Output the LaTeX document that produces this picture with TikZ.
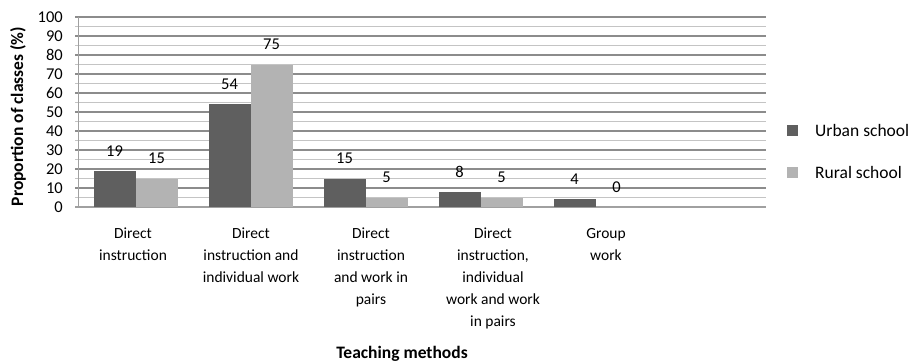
\documentclass[tikz,border=0pt]{standalone}
\usepackage{fontspec}
\setmainfont{Carlito}
\usepackage{tikz}

\definecolor{urbangray}{HTML}{5F5F5F}
\definecolor{ruralgray}{HTML}{B3B3B3}
\definecolor{majorgrid}{HTML}{8C8C8C}
\definecolor{minorgrid}{HTML}{C4C4C4}
\definecolor{axisgray}{HTML}{A0A0A0}

\tikzset{
  ticklabel/.style={black, anchor=east, inner sep=0pt, font=\fontsize{16.5}{20}\selectfont},
  vallabel/.style={black, inner sep=0pt, font=\fontsize{16.5}{20}\selectfont},
  catlabel/.style={black, anchor=north, align=center, inner sep=0pt, font=\fontsize{15.5}{22}\selectfont},
  legendlabel/.style={black, anchor=west, inner sep=0pt, font=\fontsize{17.5}{20}\selectfont},
  titlelabel/.style={black, inner sep=0pt, font=\fontsize{17.5}{20}\selectfont\bfseries}
}

\begin{document}
\begin{tikzpicture}[x=1pt,y=-1pt]
        \useasboundingbox (0,0) rectangle (913,362);

        % gridlines
        \foreach \v in {5,15,...,95}
          \draw[minorgrid, line width=1.1pt] (75,{207-1.9*\v}) -- (766,{207-1.9*\v});
        \foreach \v in {10,20,...,100}
          \draw[majorgrid, line width=1.1pt] (75,{207-1.9*\v}) -- (766,{207-1.9*\v});

        % axes
        \draw[axisgray, line width=1pt] (78,17) -- (78,207);
        \draw[axisgray, line width=1.2pt] (75,207) -- (766,207);

        % tick labels
        \foreach \v in {0,10,...,100}
          \node[ticklabel] (t\v) at (63,{207-1.9*\v}) {\v};

        % bars and values
        \foreach \i/\u/\r in {1/19/15, 2/54/75, 3/15/5, 4/8/5, 5/4/0} {
          \pgfmathsetmacro\c{78+115*(\i-0.5)}
          \fill[urbangray] ({\c-42},207) rectangle (\c,{207-1.9*\u});
          \fill[ruralgray] (\c,207) rectangle ({\c+42},{207-1.9*\r});
          \node[vallabel] (u\i) at ({\c-21},{207-1.9*\u-20}) {\u};
          \node[vallabel] (r\i) at ({\c+21},{207-1.9*\r-20}) {\r};
        }

        % categories
        \node[catlabel] (c1) at (133,228) {Direct\\instruction};
        \node[catlabel] (c2) at (251,228) {Direct\\instruction and\\individual work};
        \node[catlabel] (c3) at (371,228) {Direct\\instruction\\and work in\\pairs};
        \node[catlabel] (c4) at (493,228) {Direct\\instruction,\\individual\\work and work\\in pairs};
        \node[catlabel] (c5) at (606,228) {Group\\work};

        % titles
        \node[titlelabel] (xtitle) at (402,354) {Teaching methods};
        \node[titlelabel, rotate=90] (ytitle) at (18,116.5) {Proportion of classes (\%)};

        % legend
        \fill[urbangray] (787,125) rectangle (798,136);
        \node[legendlabel] (lurban) at (815,130) {Urban school};
        \fill[ruralgray] (787,167) rectangle (798,178);
        \node[legendlabel] (lrural) at (815,172) {Rural school};
\end{tikzpicture}
\end{document}
